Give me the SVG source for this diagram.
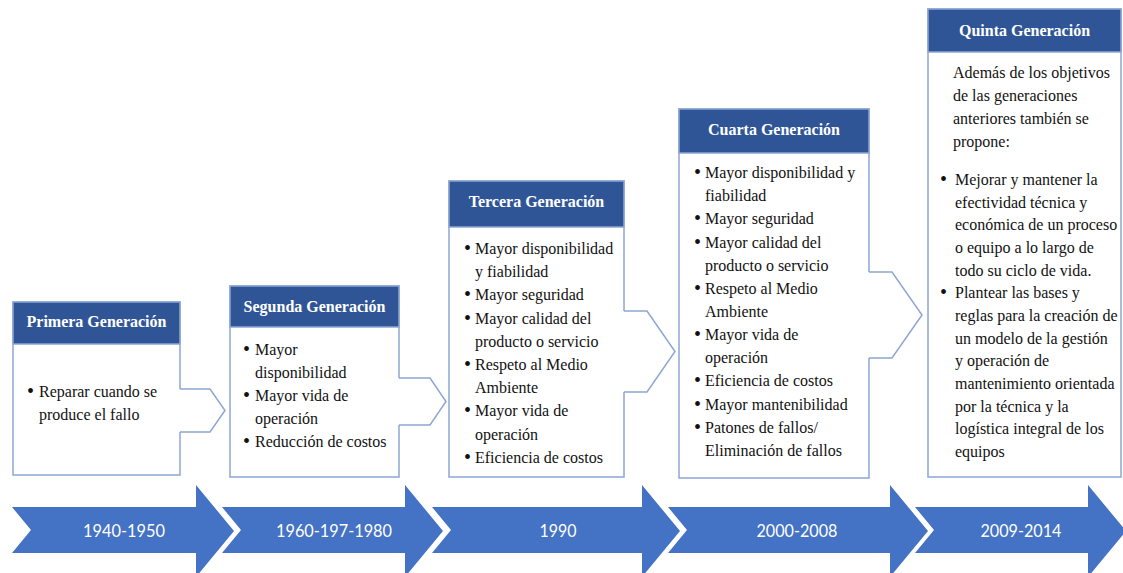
<svg xmlns="http://www.w3.org/2000/svg" width="1123" height="573" viewBox="0 0 1123 573">
<style>
.box{fill:#fff;stroke:#8EA6D4;stroke-width:1.5}
.hdr{fill:#2F5597;stroke:#8EA6D4;stroke-width:1.5}
.ht{font-family:"Liberation Serif",serif;font-weight:bold;font-size:16px;fill:#fff;text-anchor:middle}
.bt{font-family:"Liberation Serif",serif;font-size:16px;fill:#111}
.b{font-size:20px}
.tl{fill:#4472C4}
.tt{font-family:Lato,"Liberation Sans",sans-serif;font-size:17px;fill:#fff;text-anchor:middle}
.cn{fill:none;stroke:#8EA6D4;stroke-width:1.5;stroke-linejoin:miter}
</style>
<rect width="1123" height="573" fill="#fff"/>

<g id="gen1">
<path class="box" d="M180,389 V302 H13 V475 H180 V432"/>
<rect class="hdr" x="13" y="302" width="167" height="42"/>
<text class="ht" x="96.5" y="327">Primera Generación</text>
<text class="bt"><tspan class="b" x="27" y="398">•</tspan><tspan x="39" y="397">Reparar cuando se</tspan><tspan x="39" y="420">produce el fallo</tspan></text>
</g>

<g id="gen2">
<path class="box" d="M399,378 V286 H230 V477 H399 V425"/>
<rect class="hdr" x="230" y="286" width="169" height="41"/>
<text class="ht" x="314.5" y="312">Segunda Generación</text>
<text class="bt">
<tspan class="b" x="243" y="356">•</tspan><tspan x="255" y="355">Mayor</tspan>
<tspan x="255" y="378">disponibilidad</tspan>
<tspan class="b" x="243" y="402">•</tspan><tspan x="255" y="401">Mayor vida de</tspan>
<tspan x="255" y="424">operación</tspan>
<tspan class="b" x="243" y="448">•</tspan><tspan x="255" y="447">Reducción de costos</tspan>
</text>
</g>

<g id="gen3">
<path class="box" d="M624,311 V181 H449 V477 H624 V392"/>
<rect class="hdr" x="449" y="181" width="175" height="46"/>
<text class="ht" x="536.5" y="207">Tercera Generación</text>
<text class="bt">
<tspan class="b" x="464" y="255">•</tspan><tspan x="475" y="254">Mayor disponibilidad</tspan>
<tspan x="475" y="277.2">y fiabilidad</tspan>
<tspan class="b" x="464" y="301.4">•</tspan><tspan x="475" y="300.4">Mayor seguridad</tspan>
<tspan class="b" x="464" y="324.6">•</tspan><tspan x="475" y="323.6">Mayor calidad del</tspan>
<tspan x="475" y="346.8">producto o servicio</tspan>
<tspan class="b" x="464" y="371">•</tspan><tspan x="475" y="370">Respeto al Medio</tspan>
<tspan x="475" y="393.2">Ambiente</tspan>
<tspan class="b" x="464" y="417.4">•</tspan><tspan x="475" y="416.4">Mayor vida de</tspan>
<tspan x="475" y="439.6">operación</tspan>
<tspan class="b" x="464" y="463.8">•</tspan><tspan x="475" y="462.8">Eficiencia de costos</tspan>
</text>
</g>

<g id="gen4">
<path class="box" d="M869,272 V109 H679 V478 H869 V358"/>
<rect class="hdr" x="679" y="109" width="190" height="44"/>
<text class="ht" x="774" y="135">Cuarta Generación</text>
<text class="bt">
<tspan class="b" x="694" y="179">•</tspan><tspan x="705" y="178">Mayor disponibilidad y</tspan>
<tspan x="705" y="201.2">fiabilidad</tspan>
<tspan class="b" x="694" y="225.3">•</tspan><tspan x="705" y="224.3">Mayor seguridad</tspan>
<tspan class="b" x="694" y="248.5">•</tspan><tspan x="705" y="247.5">Mayor calidad del</tspan>
<tspan x="705" y="270.6">producto o servicio</tspan>
<tspan class="b" x="694" y="294.8">•</tspan><tspan x="705" y="293.8">Respeto al Medio</tspan>
<tspan x="705" y="316.9">Ambiente</tspan>
<tspan class="b" x="694" y="341.1">•</tspan><tspan x="705" y="340.1">Mayor vida de</tspan>
<tspan x="705" y="363.2">operación</tspan>
<tspan class="b" x="694" y="387.4">•</tspan><tspan x="705" y="386.4">Eficiencia de costos</tspan>
<tspan class="b" x="694" y="410.5">•</tspan><tspan x="705" y="409.5">Mayor mantenibilidad</tspan>
<tspan class="b" x="694" y="433.7">•</tspan><tspan x="705" y="432.7">Patones de fallos/</tspan>
<tspan x="705" y="455.8">Eliminación de fallos</tspan>
</text>
</g>

<g id="gen5">
<rect class="box" x="928" y="9" width="193" height="468"/>
<rect class="hdr" x="928" y="9" width="193" height="43"/>
<text class="ht" x="1024.5" y="36">Quinta Generación</text>
<text class="bt">
<tspan x="953" y="78">Además de los objetivos</tspan>
<tspan x="953" y="101">de las generaciones</tspan>
<tspan x="953" y="124">anteriores también se</tspan>
<tspan x="953" y="147">propone:</tspan>
<tspan class="b" x="940" y="186">•</tspan><tspan x="955" y="185">Mejorar y mantener la</tspan>
<tspan x="955" y="207.7">efectividad técnica y</tspan>
<tspan x="955" y="230.3">económica de un proceso</tspan>
<tspan x="955" y="253">o equipo a lo largo de</tspan>
<tspan x="955" y="275.7">todo su ciclo de vida.</tspan>
<tspan class="b" x="940" y="299.3">•</tspan><tspan x="955" y="298.3">Plantear las bases y</tspan>
<tspan x="955" y="321">reglas para la creación de</tspan>
<tspan x="955" y="343.7">un modelo de la gestión</tspan>
<tspan x="955" y="366.3">y operación de</tspan>
<tspan x="955" y="389">mantenimiento orientada</tspan>
<tspan x="955" y="411.7">por la técnica y la</tspan>
<tspan x="955" y="434.3">logística integral de los</tspan>
<tspan x="955" y="457">equipos</tspan>
</text>
</g>

<g id="connectors">
<path class="cn" d="M180,389 H210 L225,410.5 L210,432 H180"/>
<path class="cn" d="M399,378 H430 L446,401.5 L430,425 H399"/>
<path class="cn" d="M624,311 H647 L675,351.5 L647,392 H624"/>
<path class="cn" d="M869,272 H892 L922,315 L892,358 H869"/>
</g>

<g id="t1940">
<path class="tl" d="M12,507 H196 V485 L234,531 L196,577 V553 H12 L31,530 Z"/>
<text class="tt" x="124" y="537" textLength="82" lengthAdjust="spacingAndGlyphs">1940-1950</text>
</g>
<g id="t1960">
<path class="tl" d="M222,507 H405 V485 L443,531 L405,577 V553 H222 L241,530 Z"/>
<text class="tt" x="334" y="537" textLength="116" lengthAdjust="spacingAndGlyphs">1960-197-1980</text>
</g>
<g id="t1990">
<path class="tl" d="M432,507 H642 V485 L680,531 L642,577 V553 H432 L451,530 Z"/>
<text class="tt" x="558" y="537" textLength="37" lengthAdjust="spacingAndGlyphs">1990</text>
</g>
<g id="t2000">
<path class="tl" d="M668,507 H890 V485 L928,531 L890,577 V553 H668 L687,530 Z"/>
<text class="tt" x="797" y="537" textLength="81" lengthAdjust="spacingAndGlyphs">2000-2008</text>
</g>
<g id="t2009">
<path class="tl" d="M915,507 H1088 V485 L1126,531 L1088,577 V553 H915 L934,530 Z"/>
<text class="tt" x="1021" y="537" textLength="81" lengthAdjust="spacingAndGlyphs">2009-2014</text>
</g>
</svg>
